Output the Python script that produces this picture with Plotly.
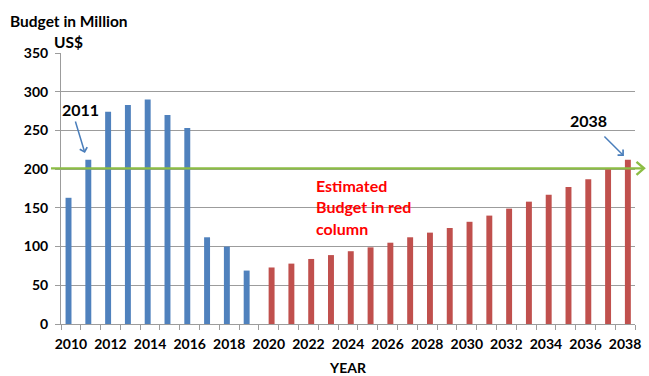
import plotly.graph_objects as go

# ---- data ----
actual_years = [2010, 2011, 2012, 2013, 2014, 2015, 2016, 2017, 2018, 2019]
actual_budget = [163, 212, 274, 283, 290, 270, 253, 112, 100, 69]
est_years = [2020, 2021, 2022, 2023, 2024, 2025, 2026, 2027, 2028, 2029,
             2030, 2031, 2032, 2033, 2034, 2035, 2036, 2037, 2038]
est_budget = [73, 78, 84, 89, 94, 99, 105, 112, 118, 124,
              132, 140, 149, 158, 167, 177, 187, 200, 212]
x_tick_years = list(range(2010, 2039, 2))
y_ticks = [0, 50, 100, 150, 200, 250, 300, 350]
reference_level = 201
y_title_lines = ["Budget in Million", "US$"]
note_lines = ["Estimated", "Budget in red", "column"]

Y_MAX = 350
all_years = actual_years + est_years
boundaries = [y - 0.5 for y in all_years] + [all_years[-1] + 0.5]

FONT = "Lato"
GRID = "#9C9C9C"
BLUE = "#4F81BD"
RED = "#C0504D"
GREEN = "#8CBD45"
ARROW_BLUE = "#4A7EBB"

BAR_W = 0.3
fig = go.Figure()
fig.add_trace(go.Bar(x=actual_years, y=actual_budget, marker_color=BLUE,
                     marker_line_width=0, name="Budget",
                     width=BAR_W, offset=-0.27))
fig.add_trace(go.Bar(x=est_years, y=est_budget, marker_color=RED,
                     marker_line_width=0, name="Estimated",
                     width=BAR_W, offset=-0.01))

bold = dict(family=FONT, size=14, color="black", weight="bold")
big = dict(family=FONT, size=16, color="black", weight="bold")

fig.update_layout(
    width=649, height=376,
    margin=dict(l=61, r=14, t=53, b=52),
    paper_bgcolor="white", plot_bgcolor="white",
    barmode="overlay",
    showlegend=False,
    font=bold,
)
fig.update_xaxes(
    range=[all_years[0] - 0.5, all_years[-1] + 0.5],
    tickmode="array", tickvals=x_tick_years,
    ticks="outside", ticklen=7, tickcolor="rgba(0,0,0,0)",
    showline=True, linecolor=GRID, linewidth=1,
    showgrid=False, zeroline=False, automargin=False,
    tickfont=bold,
    minor=dict(tickmode="array", tickvals=boundaries, ticks="outside",
               ticklen=5, tickcolor=GRID, tickwidth=1, showgrid=False),
    title=dict(text="YEAR", font=bold, standoff=14),
)
fig.update_yaxes(
    range=[0, Y_MAX], tickmode="array", tickvals=y_ticks,
    ticks="outside", ticklen=5, tickcolor=GRID,
    showline=True, linecolor=GRID, linewidth=1,
    showgrid=True, gridcolor=GRID, gridwidth=1, zeroline=False,
    automargin=False,
    tickfont=bold, ticklabelstandoff=4,
)

# green reference line with open arrow head
def px_to_paper_x(px):
    return (px - 61) / 574.0

ly = reference_level / Y_MAX
dy = 8.4 / Y_MAX
fig.add_shape(type="line", xref="paper", yref="paper",
              x0=px_to_paper_x(51), x1=px_to_paper_x(644), y0=ly, y1=ly,
              line=dict(color=GREEN, width=2.4), layer="above")
fig.add_shape(type="path", xref="paper", yref="paper",
              path=f"M {px_to_paper_x(636.5)},{ly + dy} L {px_to_paper_x(644)},{ly} L {px_to_paper_x(636.5)},{ly - dy}",
              line=dict(color=GREEN, width=2.4), layer="above")

# y-axis title (two lines)
for txt, py in zip(y_title_lines, [20.7, 41.7]):
    fig.add_annotation(text=txt, xref="paper", yref="paper",
                       x=px_to_paper_x(68.5), y=(324 - py) / 271.0,
                       xanchor="center", yanchor="middle", showarrow=False,
                       font=dict(family=FONT, size=15.5, color="black", weight="bold"))

# red note
for txt, py in zip(note_lines, [185, 206.5, 228]):
    fig.add_annotation(text=txt, xref="paper", yref="paper",
                       x=px_to_paper_x(314), y=(324 - py) / 271.0,
                       xanchor="left", yanchor="middle", showarrow=False,
                       font=dict(family=FONT, size=16, color="#FF0000", weight="bold"))

# labels with arrows
fig.add_annotation(text="2011", x=2010.51, y=276.4, showarrow=False, font=big)
fig.add_annotation(text="", x=2010.71, y=220.8, ax=-10, ay=-33, showarrow=True,
                   arrowhead=4, arrowsize=1, arrowwidth=1.5, arrowcolor=ARROW_BLUE)
fig.add_annotation(text="2038", x=2036.13, y=262.2, showarrow=False, font=big)
fig.add_annotation(text="", x=2037.94, y=217, ax=-21, ay=-21, showarrow=True,
                   arrowhead=4, arrowsize=1, arrowwidth=1.5, arrowcolor=ARROW_BLUE)

fig.write_html("out.html")
